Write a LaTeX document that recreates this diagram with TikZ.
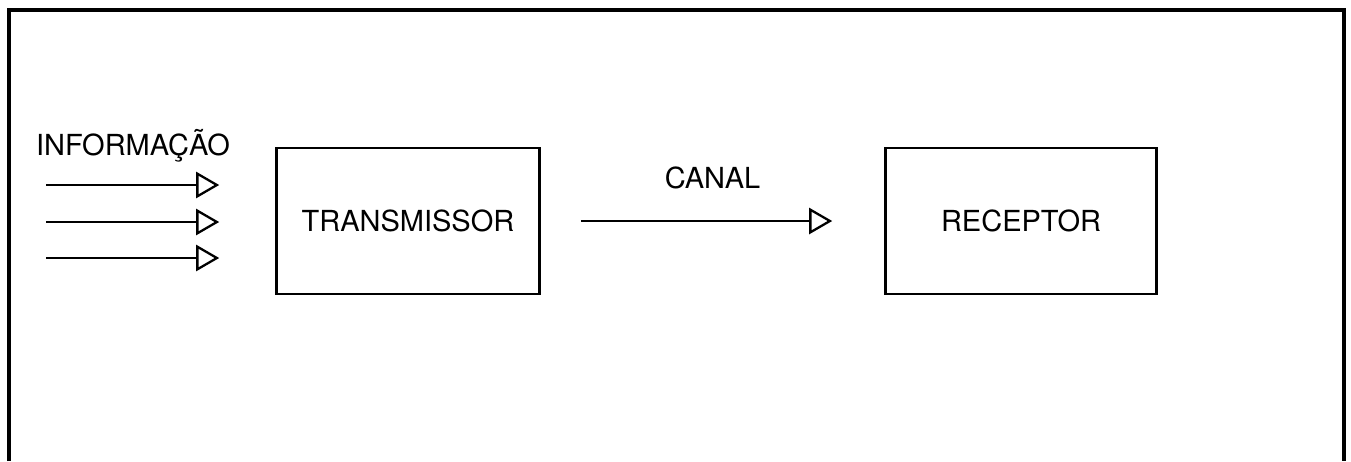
\documentclass[tikz,border=0pt]{standalone}
\usepackage{fontspec}
\setsansfont{TeX Gyre Heros}
\usetikzlibrary{arrows.meta, positioning, calc}

\begin{document}
\begin{tikzpicture}[
    x=0.02cm, y=-0.02cm,
    font=\sffamily\fontsize{16.5}{19}\selectfont,
    line width=1.3pt,
    >={Triangle[open, length=0.46cm, width=0.52cm]},
    block/.style={draw, line width=1.5pt, minimum width=5.26cm, minimum height=2.92cm, align=center},
    flow/.style={->, line width=1.3pt}
]
\useasboundingbox (0,0) rectangle (1351,461);

% ── Frame (open at the bottom) ──
\draw[line width=1.8pt] (9,461) -- (9,10) -- (1344,10) -- (1344,461);

% ── Blocks ──
\node[block] (tx) at (408,221) {TRANSMISSOR};
\node[block, minimum width=5.42cm] (rx) at (1021,221) {RECEPTOR};

% ── Input information ──
\node (info) at (133,146) {INFORMAÇÃO};
\coordinate (in1) at (46,185);
\coordinate (in2) at (46,222);
\coordinate (in3) at (46,258);

% ── Arrows ──
\draw[flow, shorten >=1.12cm] (in1) -- (tx.west |- in1);
\draw[flow, shorten >=1.12cm] (in2) -- (tx.west |- in2);
\draw[flow, shorten >=1.12cm] (in3) -- (tx.west |- in3);
\draw[flow, shorten <=0.8cm, shorten >=1.04cm] (tx.east) -- node[above=0.5cm] (canal) {CANAL} (rx.west);
\end{tikzpicture}
\end{document}
